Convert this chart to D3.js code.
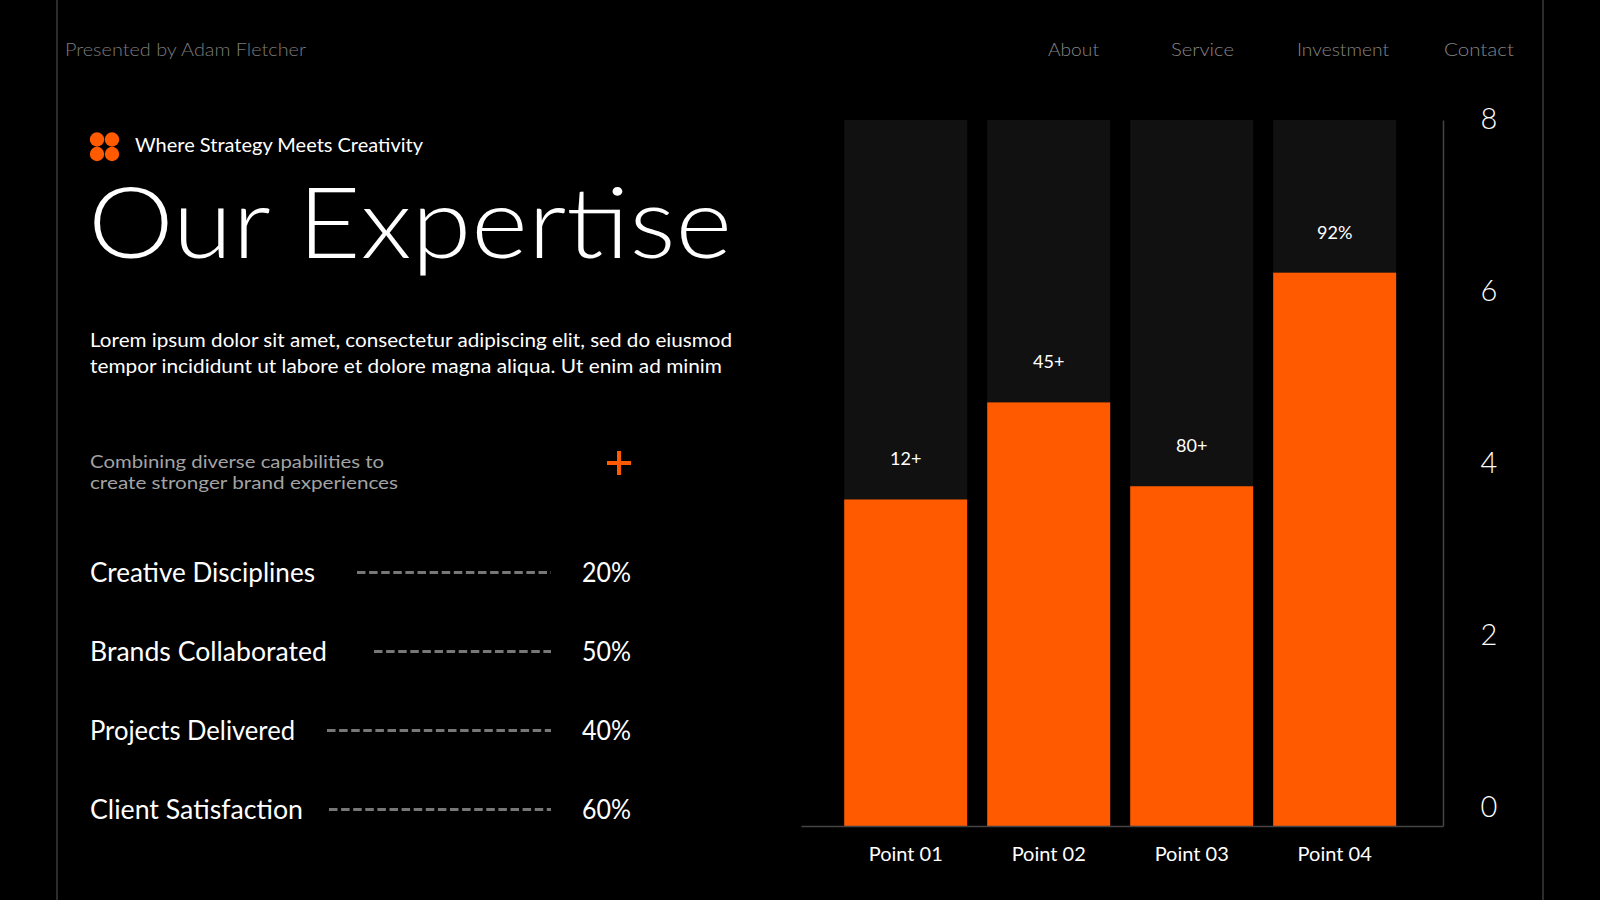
<!DOCTYPE html>
<html>
<head>
<meta charset="utf-8">
<script src="https://cdn.jsdelivr.net/npm/d3@7"></script>
<style>
  html, body { margin: 0; padding: 0; background: #000; }
  svg { display: block; }
  text { font-family: "Lato", "Open Sans", sans-serif; }
</style>
</head>
<body>
<div id="slide"></div>
<script>
// chart data
var points = ["Point 01", "Point 02", "Point 03", "Point 04"];
var pointValues = [3.7, 4.8, 3.85, 6.27];
var pointLabels = ["12+", "45+", "80+", "92%"];
var yTicks = [0, 2, 4, 6, 8];

// left side metrics
var metricLabels = ["Creative Disciplines", "Brands Collaborated", "Projects Delivered", "Client Satisfaction"];
var metricValues = [20, 50, 40, 60];

var navItems = ["About", "Service", "Investment", "Contact"];

var svgWidth = 1600;
var svgHeight = 900;
var orange = "#ff5a00";

var svg = d3.select("#slide")
    .append("svg")
    .attr("width", svgWidth)
    .attr("height", svgHeight);

svg.append("rect")
    .attr("width", svgWidth)
    .attr("height", svgHeight)
    .attr("fill", "#000");

// squeeze text to the width it has on the slide
function fit(sel, w) {
    sel.attr("textLength", w).attr("lengthAdjust", "spacingAndGlyphs");
    return sel;
}

// frame lines
svg.append("line")
    .attr("x1", 57).attr("x2", 57).attr("y1", 0).attr("y2", svgHeight)
    .attr("stroke", "#3a3a3a").attr("stroke-width", 1.5);
svg.append("line")
    .attr("x1", 1543).attr("x2", 1543).attr("y1", 0).attr("y2", svgHeight)
    .attr("stroke", "#3a3a3a").attr("stroke-width", 1.5);

// header
fit(svg.append("text")
    .attr("x", 65).attr("y", 56)
    .attr("font-size", 18)
    .attr("font-weight", 300)
    .attr("fill", "#7b7b7b")
    .text("Presented by Adam Fletcher"), 241);

var navX = [1048, 1171, 1297, 1444];
var navW = [51, 63, 92, 70];
navItems.forEach(function (d, i) {
    fit(svg.append("text")
        .attr("x", navX[i]).attr("y", 56)
        .attr("font-size", 18)
        .attr("font-weight", 300)
        .attr("fill", "#858585")
        .text(d), navW[i]);
});

// logo: four dots
var dots = [[97, 139.5], [112, 139.5], [97, 154], [112, 154]];
svg.selectAll("circle.logo")
    .data(dots)
    .enter()
    .append("circle")
    .attr("class", "logo")
    .attr("cx", d => d[0])
    .attr("cy", d => d[1])
    .attr("r", 7.2)
    .attr("fill", orange);

fit(svg.append("text")
    .attr("x", 135).attr("y", 152)
    .attr("font-size", 19)
    .attr("fill", "#fff")
    .text("Where Strategy Meets Creativity"), 288);

fit(svg.append("text")
    .attr("x", 88).attr("y", 258)
    .attr("font-size", 99)
    .attr("font-weight", 300)
    .attr("fill", "#fff")
    .text("Our Expertise"), 644);

fit(svg.append("text")
    .attr("x", 90).attr("y", 347)
    .attr("font-size", 19.5)
    .attr("fill", "#fff")
    .text("Lorem ipsum dolor sit amet, consectetur adipiscing elit, sed do eiusmod"), 642);
fit(svg.append("text")
    .attr("x", 90).attr("y", 373)
    .attr("font-size", 19.5)
    .attr("fill", "#fff")
    .text("tempor incididunt ut labore et dolore magna aliqua. Ut enim ad minim"), 632);

fit(svg.append("text")
    .attr("x", 90).attr("y", 467.5)
    .attr("font-size", 17)
    .attr("fill", "#a3a3a3")
    .text("Combining diverse capabilities to"), 294);
fit(svg.append("text")
    .attr("x", 90).attr("y", 488.5)
    .attr("font-size", 17)
    .attr("fill", "#a3a3a3")
    .text("create stronger brand experiences"), 308);

// orange plus
svg.append("path")
    .attr("d", "M607,463H631M619,451V475")
    .attr("stroke", orange)
    .attr("stroke-width", 4);

// metric rows
var rowY = d3.scalePoint()
    .domain(metricLabels)
    .range([582, 819]);

var labelW = [225, 237, 205, 213];
var dashStart = [357, 374, 327, 329];

metricLabels.forEach(function (d, i) {
    var y = rowY(d);
    fit(svg.append("text")
        .attr("x", 90).attr("y", y)
        .attr("font-size", 27)
        .attr("fill", "#fff")
        .text(d), labelW[i]);

    svg.append("line")
        .attr("x1", dashStart[i]).attr("x2", 551)
        .attr("y1", y - 9.5).attr("y2", y - 9.5)
        .attr("stroke", "#777")
        .attr("stroke-width", 3)
        .attr("stroke-dasharray", "8.5,3.6");

    fit(svg.append("text")
        .attr("x", 631).attr("y", y)
        .attr("text-anchor", "end")
        .attr("font-size", 27)
        .attr("fill", "#fff")
        .text(metricValues[i] + "%"), 49);
});

// bar chart
var x = d3.scaleBand()
    .domain(points)
    .range([801, 1443])
    .paddingInner(0.14)
    .paddingOuter(0.315)
    .align(0.48);

var y = d3.scaleLinear()
    .domain([0, 8])
    .range([826, 120]);

// tick labels sit a little inside the plot on the slide
var yLab = d3.scaleLinear()
    .domain([0, 8])
    .range([807, 119]);

var chartGroup = svg.append("g");

// track behind each bar
chartGroup.selectAll("rect.track")
    .data(points)
    .enter()
    .append("rect")
    .attr("class", "track")
    .attr("x", d => x(d))
    .attr("width", x.bandwidth())
    .attr("y", y(8))
    .attr("height", y(0) - y(8))
    .attr("fill", "#111");

chartGroup.selectAll("rect.bar")
    .data(pointValues)
    .enter()
    .append("rect")
    .attr("class", "bar")
    .attr("x", (d, i) => x(points[i]))
    .attr("width", x.bandwidth())
    .attr("y", d => y(d))
    .attr("height", d => y(0) - y(d))
    .attr("fill", orange);

chartGroup.selectAll("text.value")
    .data(pointValues)
    .enter()
    .append("text")
    .attr("class", "value")
    .attr("x", (d, i) => x(points[i]) + x.bandwidth() / 2)
    .attr("y", d => y(d) - 34)
    .attr("text-anchor", "middle")
    .attr("font-size", 18)
    .attr("fill", "#fff")
    .text((d, i) => pointLabels[i]);

// x axis
var xAxis = d3.axisBottom(x).tickSize(0).tickPadding(21).tickSizeOuter(0);
var gx = chartGroup.append("g")
    .attr("transform", `translate(0, ${y(0)})`)
    .call(xAxis);
gx.select(".domain").attr("stroke", "#444").attr("stroke-width", 1.5);
gx.selectAll("text")
    .attr("font-size", 20)
    .attr("fill", "#fff")
    .style("font-family", "Lato, sans-serif");

// right axis line
var gy = chartGroup.append("g")
    .attr("transform", "translate(1443, 0)")
    .call(d3.axisLeft(y).tickValues([]).tickSizeOuter(0));
gy.select(".domain").attr("stroke", "#444").attr("stroke-width", 1.5);

// y tick labels
var gyl = chartGroup.append("g")
    .attr("transform", "translate(1489, 0)")
    .call(d3.axisRight(yLab).tickValues(yTicks).tickSize(0).tickPadding(0));
gyl.select(".domain").remove();
gyl.selectAll("text")
    .attr("text-anchor", "middle")
    .attr("font-size", 29)
    .attr("font-weight", 300)
    .attr("fill", "#fff")
    .style("font-family", "Lato, sans-serif");
</script>
</body>
</html>
